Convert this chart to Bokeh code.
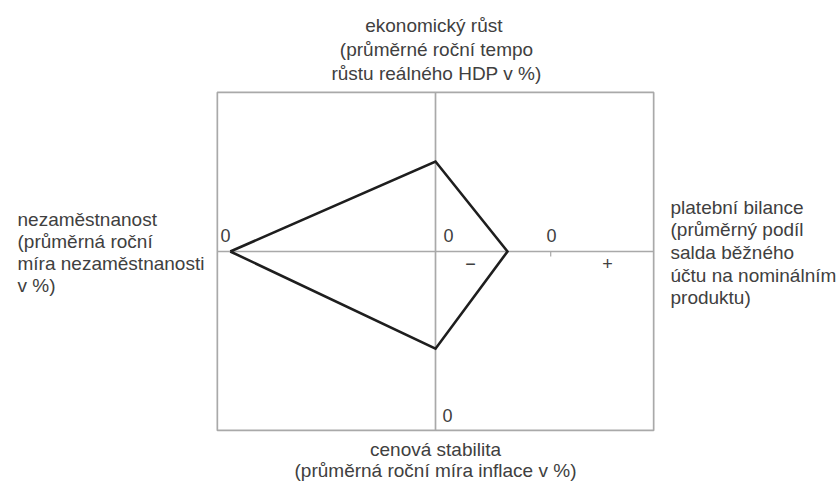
from bokeh.plotting import figure
from bokeh.models import Range1d
from bokeh.core.properties import value
from bokeh.embed import file_html
from bokeh.resources import INLINE

# ---------------- data ----------------
# magic quadrangle: four economic-policy goals, values in %
goal_names = ["nezaměstnanost", "ekonomický růst", "platební bilance", "cenová stabilita"]
unemployment = 5.7      # průměrná roční míra nezaměstnanosti v %
growth = 2.5            # průměrné roční tempo růstu reálného HDP v %
balance = -1.2          # podíl salda běžného účtu na nominálním produktu v %
inflation = 2.7         # průměrná roční míra inflace v %

axis_labels = [
    "nezaměstnanost\n(průměrná roční\nmíra nezaměstnanosti\nv %)",
    "ekonomický  růst\n(průměrné roční tempo\nrůstu reálného HDP v %)",
    "platební bilance\n(průměrný podíl\nsalda běžného\núčtu na nominálním\nproduktu)",
    "cenová stabilita\n(průměrná roční míra inflace v %)",
]
zero_labels = ["0", "0", "0", "0"]
sign_labels = ["−", "+"]

# ---------------- layout ----------------
W, H = 837, 481
CX, CY = 435, 251          # screen position of the axes cross
S = 36.0                   # pixels per percentage point
BAL_ZERO = 3.2             # position of the balance-axis zero (units right of centre)
BOX = dict(left=-6.06, right=6.06, top=4.42, bottom=-4.97)


def X(sx):
    return (sx - CX) / S


def Y(sy):
    return (CY - sy) / S


p = figure(width=W, height=H, output_backend="svg", toolbar_location=None,
           x_range=Range1d(X(0), X(W)), y_range=Range1d(Y(H), Y(0)),
           min_border=0, outline_line_color=None)
p.axis.visible = False
p.grid.visible = False
p.background_fill_color = "white"
p.border_fill_color = "white"

GRAY = "#a9a9a9"
TXT = "#404040"
FONT = value("Liberation Sans")
FS = "19px"

# frame and axes
p.quad(left=[BOX["left"]], right=[BOX["right"]], top=[BOX["top"]], bottom=[BOX["bottom"]],
       fill_alpha=0, line_color=GRAY, line_width=1.7)
p.segment(x0=[BOX["left"], 0], y0=[0, BOX["top"]], x1=[BOX["right"], 0], y1=[0, BOX["bottom"]],
          line_color=GRAY, line_width=1.7)
# small tick marking the zero of the balance axis
p.segment(x0=[BAL_ZERO], y0=[0], x1=[BAL_ZERO], y1=[-0.14], line_color=GRAY, line_width=1.2)

# the quadrangle
qx = [-unemployment, 0, BAL_ZERO + balance, 0, -unemployment]
qy = [0, growth, 0, -inflation, 0]
p.line(qx, qy, line_color="#1e1e1e", line_width=2.6, line_join="miter")

# axis descriptions
p.text(x=[X(17)], y=[Y(252)], text=[axis_labels[0]], text_font=FONT, text_font_size=FS,
       text_align="left", text_baseline="middle", text_line_height=1.05, text_color=TXT)
p.text(x=[X(436)], y=[Y(49)], text=[axis_labels[1]], text_font=FONT, text_font_size=FS,
       text_align="center", text_baseline="middle", text_line_height=1.13, text_color=TXT)
p.text(x=[X(670)], y=[Y(252)], text=[axis_labels[2]], text_font=FONT, text_font_size=FS,
       text_align="left", text_baseline="middle", text_line_height=1.08, text_color=TXT)
p.text(x=[X(435)], y=[Y(459)], text=[axis_labels[3]], text_font=FONT, text_font_size=FS,
       text_align="center", text_baseline="middle", text_line_height=1.0, text_color=TXT)

# zero marks and signs
p.text(x=[X(225), X(448), X(551), X(447)], y=[Y(235), Y(235), Y(235), Y(415)], text=zero_labels,
       text_font=FONT, text_font_size="18px", text_align="center", text_baseline="middle",
       text_color=TXT)
p.text(x=[X(470), X(607)], y=[Y(263), Y(263)], text=sign_labels,
       text_font=FONT, text_font_size="18px", text_align="center", text_baseline="middle",
       text_color=TXT)

open("out.html", "w").write(file_html(p, INLINE))
